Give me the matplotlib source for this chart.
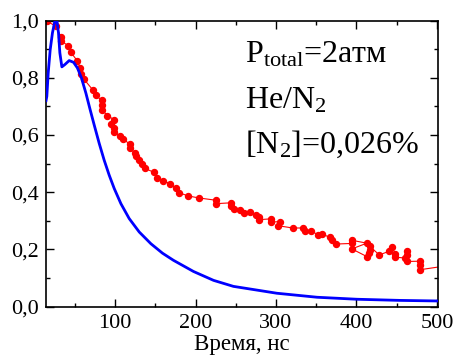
import matplotlib
matplotlib.use("Agg")
import matplotlib.pyplot as plt
from matplotlib.ticker import MultipleLocator, FuncFormatter

plt.rcParams["font.family"] = ["Liberation Serif", "DejaVu Serif"]
plt.rcParams["mathtext.fontset"] = "custom"
plt.rcParams["mathtext.rm"] = "Liberation Serif"
plt.rcParams["mathtext.it"] = "Liberation Serif:italic"

# Calculated signal (blue line)
calc_t = [14, 15, 16.7, 19.2, 22, 25, 27.5, 29.5, 31.2, 33.7, 37.4, 42.8, 48.2,
          53.1, 58.1, 63.6, 68.9, 73.9, 80.1, 86.3, 92.5, 98.8, 107.1, 117.4,
          129.9, 144.4, 158.8, 172.5, 197.4, 222.3, 247, 301, 351, 400.6, 454, 501]
calc_v = [0.72, 0.735, 0.816, 0.898, 0.957, 0.998, 1.0, 0.957, 0.887, 0.838,
          0.846, 0.86, 0.854, 0.834, 0.799, 0.746, 0.688, 0.635, 0.571, 0.512,
          0.46, 0.413, 0.36, 0.308, 0.261, 0.22, 0.187, 0.162, 0.123, 0.092,
          0.071, 0.047, 0.033, 0.026, 0.022, 0.020]

# Measured signal (red points)
meas_t = [15, 26.2, 32.5, 33.2, 41.5, 44.9, 53.1, 56.5, 57.3, 60.6, 72.6, 76,
          83.4, 83.4, 83.4, 90.4, 98.8, 95.4, 98.8, 98.8, 106.2, 110.3,
          117.8, 117.8, 124.9, 125.6, 129, 133.2, 137.3, 148.5, 152.6, 159.7,
          168, 175.5, 179.6, 190.8, 204, 225.2, 225.2, 243.9, 243.9, 248,
          255.5, 260.4, 267.9, 275, 278.2, 278.2, 293.7, 293.7, 305, 302, 321,
          333, 336.3, 343.8, 352.5, 356.8, 366.8, 369.9, 374.9, 394.2, 394.2,
          413, 394.2, 413, 416, 416.5, 416.5, 428.4, 440, 444.2, 448.3, 448.3,
          460.7, 462.8, 462.8, 462.8, 478.5, 478.5, 478.5, 510]
meas_v = [0.998, 0.98, 0.943, 0.928, 0.912, 0.889, 0.858, 0.834, 0.813, 0.797,
          0.756, 0.738, 0.721, 0.705, 0.688, 0.668, 0.653, 0.639, 0.624, 0.609,
          0.596, 0.586, 0.568, 0.553, 0.538, 0.526, 0.512, 0.498, 0.483, 0.469,
          0.450, 0.440, 0.430, 0.413, 0.398, 0.387, 0.380, 0.372, 0.360,
          0.363, 0.351, 0.343, 0.337, 0.328, 0.330, 0.319, 0.314, 0.304, 0.307,
          0.296, 0.297, 0.283, 0.275, 0.275, 0.263, 0.263, 0.252, 0.255, 0.242,
          0.232, 0.219, 0.221, 0.232, 0.222, 0.202, 0.175, 0.187, 0.199, 0.211,
          0.181, 0.193, 0.207, 0.185, 0.173, 0.170, 0.193, 0.180, 0.158, 0.159,
          0.146, 0.129, 0.142]

fig = plt.figure(figsize=(4.57, 3.56), dpi=100)
ax = fig.add_axes([0.1007, 0.1385, 0.8571, 0.8039])

ax.plot(meas_t, meas_v, color="#ff0000", lw=0.8, marker="o", ms=4.3,
        mec="#ff0000", mfc="#ff0000", zorder=2)
ax.plot(calc_t, calc_v, color="#0000ff", lw=2.0, zorder=3)

ax.set_xlim(14, 501)
ax.set_ylim(0, 1.0)
ax.xaxis.set_major_locator(MultipleLocator(100))
ax.xaxis.set_minor_locator(MultipleLocator(50))
ax.yaxis.set_major_locator(MultipleLocator(0.2))
ax.yaxis.set_minor_locator(MultipleLocator(0.1))
ax.yaxis.set_major_formatter(FuncFormatter(lambda v, p: f"{v:.1f}".replace(".", ",")))
ax.tick_params(which="both", direction="in", top=True, right=True,
               width=1.0, labelsize=16, pad=5)
ax.tick_params(which="major", length=6)
ax.tick_params(which="minor", length=3)
for s in ax.spines.values():
    s.set_linewidth(1.2)

ax.set_xlabel("Время, нс", fontsize=16.5, labelpad=1)

ax.text(0.508, 0.853, r"$\mathrm{P_{total}}$=2атм", transform=ax.transAxes,
        fontsize=23, va="baseline")
ax.text(0.508, 0.691, r"He/N$\mathrm{_2}$", transform=ax.transAxes,
        fontsize=23, va="baseline")
ax.text(0.508, 0.537, r"[N$\mathrm{_2}$]=0,026%", transform=ax.transAxes,
        fontsize=23, va="baseline")

fig.savefig("out.png", dpi=100)
